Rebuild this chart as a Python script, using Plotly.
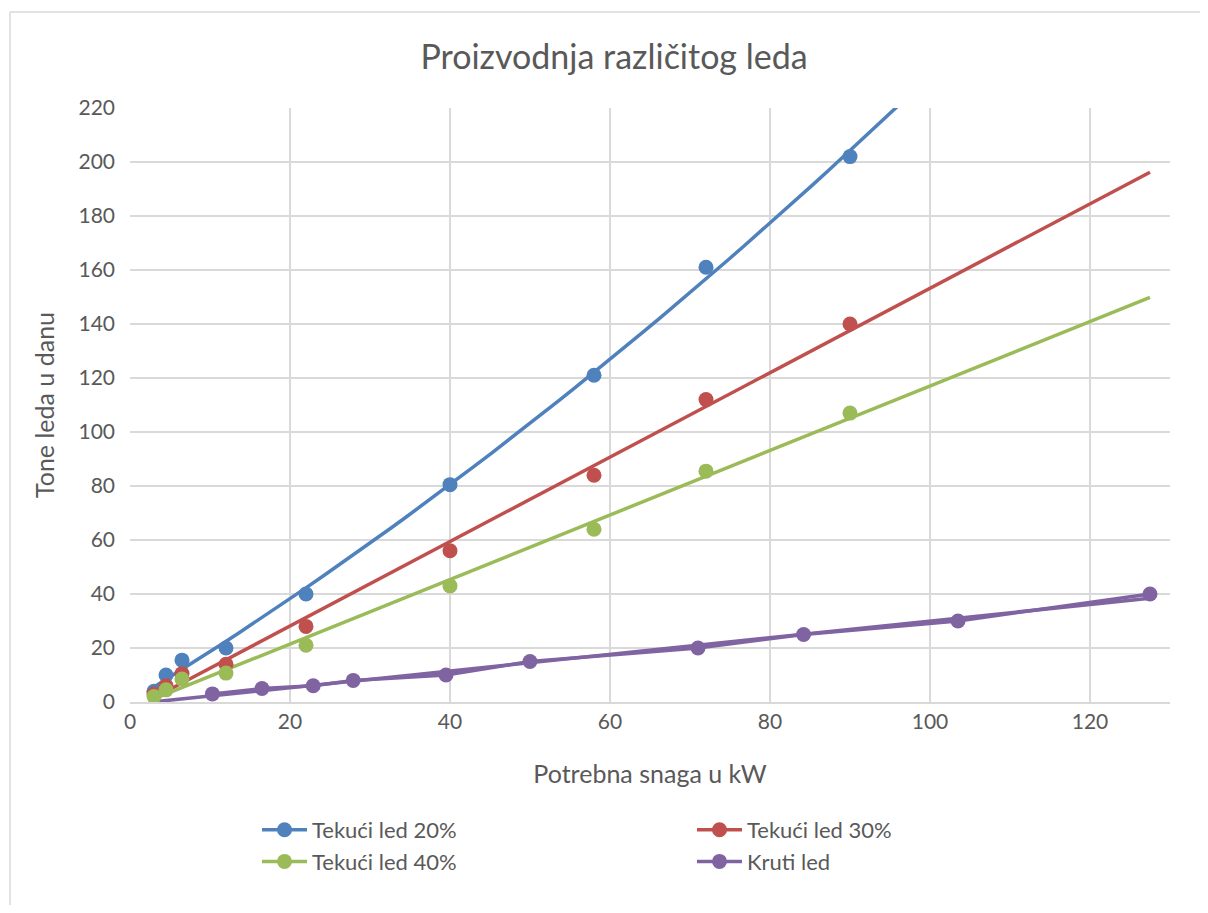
import numpy as np
import plotly.graph_objects as go

# ---- data ----
x_tekuci = [3, 4.5, 6.5, 12, 22, 40, 58, 72, 90]
y_20 = [4, 10, 15.5, 20, 40, 80.5, 121, 161, 202]
y_30 = [3, 6, 10.5, 14, 28, 56, 84, 112, 140]
y_40 = [2, 4.5, 8.5, 10.7, 21, 43, 64, 85.5, 107]
x_kruti = [10.3, 16.5, 22.9, 27.9, 39.5, 50, 71, 84.2, 103.5, 127.5]
y_kruti = [3, 5, 6, 8, 10, 15, 20, 25, 30, 40]

names = ["Tekući led 20%", "Tekući led 30%", "Tekući led 40%", "Kruti led"]
colors = ["#4f81bd", "#c0504d", "#9bbb59", "#8064a2"]
trend_degree = [2, 1, 1, 1]
connect_points = [False, False, False, True]
trend_range = [3, 127.5]

series = [(x_tekuci, y_20), (x_tekuci, y_30), (x_tekuci, y_40), (x_kruti, y_kruti)]

LW = 3.5
MS = 15

fig = go.Figure()
# trendlines (fitted from the data)
for (xs, ys), col, deg in zip(series, colors, trend_degree):
    coef = np.polyfit(xs, ys, deg)
    tx = np.linspace(trend_range[0], trend_range[1], 60)
    fig.add_trace(go.Scatter(x=tx, y=np.polyval(coef, tx), mode="lines",
                             line=dict(color=col, width=LW), showlegend=False,
                             hoverinfo="skip"))
# data points
for (xs, ys), name, col, conn in zip(series, names, colors, connect_points):
    fig.add_trace(go.Scatter(x=xs, y=ys, mode="lines+markers" if conn else "markers",
                             name=name, legendgroup=name, showlegend=False,
                             line=dict(color=col, width=LW),
                             marker=dict(color=col, size=MS)))
# legend entries (line + marker, as in the reference)
for name, col in zip(names, colors):
    fig.add_trace(go.Scatter(x=[None], y=[None], mode="lines+markers", name=name,
                             legendgroup=name, line=dict(color=col, width=LW),
                             marker=dict(color=col, size=MS)))

grid = "#d9d9d9"
font_fam = "Lato, 'Open Sans', sans-serif"
W, H = 1192, 897
L, T, R, B = 122, 100, 30, 203
fig.update_layout(
    width=W, height=H,
    paper_bgcolor="white", plot_bgcolor="white",
    margin=dict(l=L, r=R, t=T, b=B, autoexpand=False),
    font=dict(family=font_fam, color="#595959", size=21),
    title=dict(text="Proizvodnja različitog leda", x=606 / W, xanchor="center",
               y=1 - 49 / H, yanchor="middle",
               font=dict(size=34, color="#595959", family=font_fam)),
    xaxis=dict(range=[0, 130], dtick=20, tick0=0, showgrid=True, gridcolor=grid,
               gridwidth=1.5, zeroline=False, showline=True, linecolor=grid,
               linewidth=1.5, ticks="", tickfont=dict(size=21),
               title=dict(text="Potrebna snaga u kW", font=dict(size=25), standoff=34)),
    yaxis=dict(range=[0, 220], dtick=20, tick0=0, showgrid=True, gridcolor=grid,
               gridwidth=1.5, zeroline=False, showline=False, ticks="",
               tickfont=dict(size=21), ticklabelstandoff=14,
               title=dict(text="Tone leda u danu", font=dict(size=25), standoff=16)),
    legend=dict(orientation="h", x=(257 - 8 - L) / 1040, xanchor="left",
                y=(694 - 801) / 594, yanchor="top",
                entrywidth=375, entrywidthmode="pixels", font=dict(size=22),
                itemwidth=45, tracegroupgap=0, bgcolor="rgba(0,0,0,0)"),
    showlegend=True,
)

# chart-area border (top and left edges visible)
lx = (2 - L) / 1040
ty = (694 - 4) / 594
fig.add_shape(type="line", xref="paper", yref="paper", x0=lx, x1=1.2, y0=ty, y1=ty,
              line=dict(color=grid, width=1.5), layer="below")
fig.add_shape(type="line", xref="paper", yref="paper", x0=lx, x1=lx, y0=ty, y1=-0.5,
              line=dict(color=grid, width=1.5), layer="below")

fig.write_html("out.html")
